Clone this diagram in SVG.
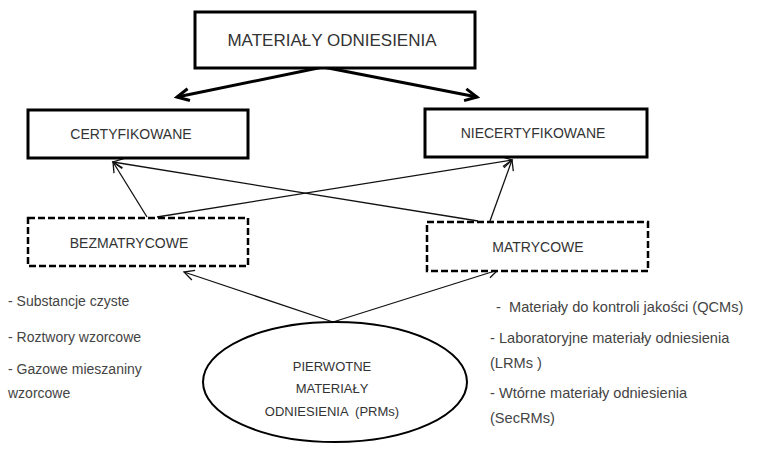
<svg xmlns="http://www.w3.org/2000/svg" width="759" height="450" viewBox="0 0 759 450">
<style>
.box{fill:#fff;stroke:#000;stroke-width:3}
.dbox{fill:#fff;stroke:#000;stroke-width:2.5;stroke-dasharray:7,3}
.lbl{font-family:"Liberation Sans",Arial,sans-serif;fill:#333;text-anchor:middle}
.lst{font-family:"Liberation Sans",Arial,sans-serif;fill:#444;font-size:14px}
.rl{font-size:14.6px}
.thin{stroke:#111;stroke-width:1.3;fill:none}
.thick{stroke:#000;stroke-width:3;fill:none}
</style>
<defs>
<marker id="ah" markerUnits="userSpaceOnUse" markerWidth="14" markerHeight="14" viewBox="0 0 14 14" refX="12" refY="7" orient="auto">
<path d="M2,2 L12,7 L2,12" fill="none" stroke="#111" stroke-width="1.3"/>
</marker>
<marker id="ahb" markerUnits="userSpaceOnUse" markerWidth="18" markerHeight="18" viewBox="0 0 18 18" refX="15" refY="9" orient="auto">
<path d="M3,3 L15,9 L3,15" fill="none" stroke="#000" stroke-width="3"/>
</marker>
</defs>
<rect width="759" height="450" fill="#fff"/>
<g id="connectors">
<line class="thick" x1="323" y1="67" x2="177" y2="97" marker-end="url(#ahb)"/>
<line class="thick" x1="323" y1="67" x2="477" y2="97" marker-end="url(#ahb)"/>
<line class="thin" x1="147" y1="217" x2="113" y2="162" marker-end="url(#ah)"/>
<line class="thin" x1="157" y1="217" x2="512" y2="160" marker-end="url(#ah)"/>
<line class="thin" x1="478" y1="221" x2="113" y2="162" marker-end="url(#ah)"/>
<line class="thin" x1="490" y1="221" x2="512" y2="160" marker-end="url(#ah)"/>
<line class="thin" x1="333" y1="322" x2="184" y2="272" marker-end="url(#ah)"/>
<line class="thin" x1="333" y1="322" x2="498" y2="270" marker-end="url(#ah)"/>
</g>
<g id="materialy">
<rect class="box" x="195" y="12" width="280" height="56"/>
<text class="lbl" x="332" y="46" font-size="17">MATERIAŁY ODNIESIENIA</text>
</g>
<g id="certyfikowane">
<rect class="box" x="28" y="110" width="220" height="48"/>
<text class="lbl" x="131" y="139" font-size="14">CERTYFIKOWANE</text>
</g>
<g id="niecertyfikowane">
<rect class="box" x="425" y="109" width="222" height="48"/>
<text class="lbl" x="533" y="138" font-size="14">NIECERTYFIKOWANE</text>
</g>
<g id="bezmatrycowe">
<rect class="dbox" x="28" y="218" width="220" height="48"/>
<text class="lbl" x="129" y="248" font-size="14">BEZMATRYCOWE</text>
</g>
<g id="matrycowe">
<rect class="dbox" x="427" y="222" width="221" height="49"/>
<text class="lbl" x="538" y="252" font-size="14">MATRYCOWE</text>
</g>
<g id="pierwotne">
<ellipse cx="335" cy="382" rx="132" ry="60" fill="#fff" stroke="#000" stroke-width="2"/>
<text class="lbl" x="332" y="371" font-size="13">PIERWOTNE</text>
<text class="lbl" x="332" y="393" font-size="13">MATERIAŁY</text>
<text class="lbl" x="332" y="416" font-size="13" xml:space="preserve">ODNIESIENIA  (PRMs)</text>
</g>
<g id="lista-bez">
<text class="lst" x="8" y="306">- Substancje czyste</text>
<text class="lst" x="8" y="342">- Roztwory wzorcowe</text>
<text class="lst" x="8" y="374">- Gazowe mieszaniny</text>
<text class="lst" x="8" y="398">wzorcowe</text>
</g>
<g id="lista-mat">
<text class="lst rl" x="496" y="312" xml:space="preserve">-  Materiały do kontroli jakości (QCMs)</text>
<text class="lst rl" x="490" y="343">- Laboratoryjne materiały odniesienia</text>
<text class="lst rl" x="490" y="368">(LRMs )</text>
<text class="lst rl" x="490" y="398">- Wtórne materiały odniesienia</text>
<text class="lst rl" x="490" y="423">(SecRMs)</text>
</g>
</svg>
